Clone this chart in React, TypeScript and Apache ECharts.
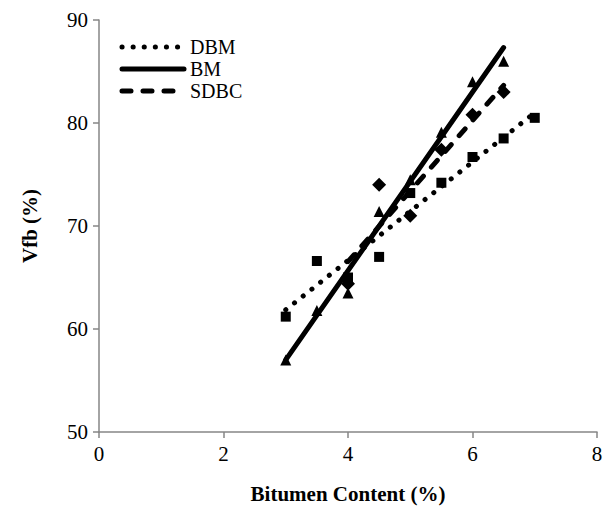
import React, { useEffect, useRef } from "react";
import * as echarts from "echarts";

const xDBM = [3, 3.5, 4, 4.5, 5, 5.5, 6, 6.5, 7];
const yDBM = [61.2, 66.6, 65.0, 67.0, 73.2, 74.2, 76.7, 78.5, 80.5];
const xBM = [3, 3.5, 4, 4.5, 5, 5.5, 6, 6.5];
const yBM = [57.0, 61.8, 63.5, 71.4, 74.5, 79.1, 84.0, 86.0];
const xSDBC = [4, 4.5, 5, 5.5, 6, 6.5];
const ySDBC = [64.4, 74.0, 71.0, 77.4, 80.8, 83.0];

const seriesNames = ["DBM", "BM", "SDBC"];
const xTicks = [0, 2, 4, 6, 8];
const yTicks = [50, 60, 70, 80, 90];

const FONT = "'Liberation Serif', 'Times New Roman', serif";

function trend(xs: number[], ys: number[]) {
  const n = xs.length;
  const mx = xs.reduce((a, b) => a + b, 0) / n;
  const my = ys.reduce((a, b) => a + b, 0) / n;
  let sxy = 0, sxx = 0;
  for (let i = 0; i < n; i++) {
    sxy += (xs[i] - mx) * (ys[i] - my);
    sxx += (xs[i] - mx) * (xs[i] - mx);
  }
  const b = sxy / sxx;
  const a = my - b * mx;
  const x0 = Math.min(...xs), x1 = Math.max(...xs);
  return [[x0, a + b * x0], [x1, a + b * x1]];
}

const zip = (xs: number[], ys: number[]) => xs.map((x, i) => [x, ys[i]]);

export default function App() {
  const ref = useRef<HTMLDivElement>(null);
  useEffect(() => {
    const chart = echarts.init(ref.current!, null, { renderer: "svg" });
    const axisColor = "#868686";
    const DOT = [0.1, 11];
    const DASH = [9, 12];
    const legendRows = [
      { name: seriesNames[0], y: 47, dash: DOT, w: 5 },
      { name: seriesNames[1], y: 69, dash: null, w: 5 },
      { name: seriesNames[2], y: 91, dash: DASH, w: 5 },
    ];
    const graphic: any[] = [];
    legendRows.forEach((r) => {
      graphic.push({
        type: "line",
        shape: { x1: 122, y1: r.y, x2: 184, y2: r.y },
        style: {
          stroke: "#000",
          lineWidth: r.w,
          lineCap: "round",
          lineDash: r.dash || undefined,
        },
      });
      graphic.push({
        type: "text",
        x: 190,
        y: r.y,
        style: {
          text: r.name,
          fontFamily: FONT,
          fontSize: 20,
          lineHeight: 20,
          fill: "#000",
          verticalAlign: "middle",
          align: "left",
        },
      });
    });
    const tick = { show: true, length: 6, lineStyle: { color: axisColor, width: 1.5 } };
    const label = { fontFamily: FONT, fontSize: 21, color: "#000" };
    const nameStyle = { fontFamily: FONT, fontSize: 21, fontWeight: "bold", color: "#000" };
    chart.setOption({
      animation: false,
      grid: { left: 99, right: 11, top: 20, bottom: 86, containLabel: false },
      xAxis: {
        type: "value",
        min: xTicks[0],
        max: xTicks[xTicks.length - 1],
        interval: 2,
        splitLine: { show: false },
        axisLine: { show: true, lineStyle: { color: axisColor, width: 1.5 } },
        axisTick: tick,
        axisLabel: { ...label, margin: 11 },
        name: "Bitumen Content (%)",
        nameLocation: "middle",
        nameGap: 51,
        nameTextStyle: nameStyle,
      },
      yAxis: {
        type: "value",
        min: yTicks[0],
        max: yTicks[yTicks.length - 1],
        interval: 10,
        splitLine: { show: false },
        axisLine: { show: true, lineStyle: { color: axisColor, width: 1.5 } },
        axisTick: tick,
        axisLabel: { ...label, margin: 11 },
        name: "Vfb (%)",
        nameLocation: "middle",
        nameGap: 59,
        nameTextStyle: nameStyle,
      },
      graphic,
      series: [
        {
          type: "line",
          data: trend(xDBM, yDBM),
          symbol: "none",
          lineStyle: { color: "#000", width: 5, type: DOT, cap: "round" },
          z: 3,
        },
        {
          type: "line",
          data: trend(xBM, yBM),
          symbol: "none",
          lineStyle: { color: "#000", width: 5, cap: "round" },
          z: 3,
        },
        {
          type: "line",
          data: trend(xSDBC, ySDBC),
          symbol: "none",
          lineStyle: { color: "#000", width: 5, type: DASH, cap: "round" },
          z: 3,
        },
        {
          type: "scatter",
          name: seriesNames[0],
          data: zip(xDBM, yDBM),
          symbol: "rect",
          symbolSize: 10,
          itemStyle: { color: "#000", opacity: 1 },
          z: 2,
        },
        {
          type: "scatter",
          name: seriesNames[1],
          data: zip(xBM, yBM),
          symbol: "triangle",
          symbolSize: 11,
          itemStyle: { color: "#000", opacity: 1 },
          z: 2,
        },
        {
          type: "scatter",
          name: seriesNames[2],
          data: zip(xSDBC, ySDBC),
          symbol: "diamond",
          symbolSize: 14,
          itemStyle: { color: "#000", opacity: 1 },
          z: 2,
        },
      ],
    });
    return () => chart.dispose();
  }, []);
  return (
    <div
      ref={ref}
      style={{ position: "fixed", left: 0, top: 0, width: 608, height: 518, background: "#fff" }}
    />
  );
}
